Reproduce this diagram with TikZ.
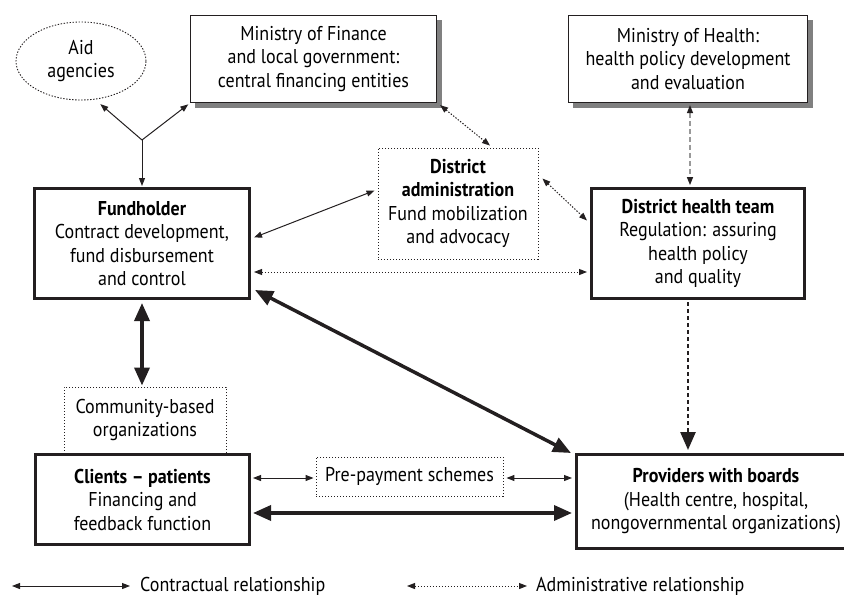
\documentclass[tikz,border=0pt]{standalone}
\usepackage{fontspec}
\setmainfont[FakeStretch=0.9]{PT Sans}
\usetikzlibrary{arrows.meta,calc,shapes.geometric}
\definecolor{pag}{HTML}{231F20}
\tikzset{
	thinbox/.style={draw=pag, line width=1.2pt, align=center, inner sep=0pt, fill=white},
	thickbox/.style={draw=pag, line width=3pt, align=center, inner sep=0pt, fill=white},
	dotbox/.style={draw=pag, line width=0.9pt, dash pattern=on 1.4pt off 1.6pt, align=center, inner sep=0pt},
	boxshadow/.style={fill=black!50, draw=none, inner sep=0pt},
	contract/.style={draw=pag, line width=1pt, {Triangle[length=8pt,width=6pt]}-{Triangle[length=8pt,width=6pt]}},
	admin/.style={contract, dash pattern=on 1.4pt off 1.6pt},
	heavy/.style={draw=pag, line width=3.5pt, {Triangle[length=18pt,width=15pt]}-{Triangle[length=18pt,width=15pt]}},
}
\begin{document}
\begin{tikzpicture}[x=1pt, y=-1pt, font=\fontsize{20pt}{23.5pt}\selectfont]
	\useasboundingbox (0,0) rectangle (844,597);
	%% top row (grey shadows first, boxes on top)
	\node[boxshadow, minimum width=247pt, minimum height=88pt] (mofshadow) at (318.5,64) {};
	\node[boxshadow, minimum width=240pt, minimum height=88pt] (mohshadow) at (693,64) {};
	\node[ellipse, dotbox, minimum width=130pt, minimum height=78pt] (aid) at (81,61) {Aid\\agencies};
	\node[thinbox, minimum width=246pt, minimum height=87pt] (mof) at (313.5,59) {Ministry of Finance\\and local government:\\central financing entities};
	\node[thinbox, minimum width=239pt, minimum height=87pt] (moh) at (688,59) {Ministry of Health:\\health policy development\\and evaluation};
	%% middle row
	\node[dotbox, minimum width=160pt, minimum height=111pt] (distadm) at (458,203.5) {\textbf{District}\\\textbf{administration}\\Fund mobilization\\and advocacy};
	\node[thickbox, minimum width=215pt, minimum height=110pt] (fund) at (142,243.5) {\textbf{Fundholder}\\Contract development,\\fund disbursement\\and control};
	\node[thickbox, minimum width=213pt, minimum height=110pt] (dht) at (698,243.5) {\textbf{District health team}\\Regulation: assuring\\health policy\\and quality};
	%% bottom row
	\node[dotbox, minimum width=162pt, minimum height=66pt] (cbo) at (145,420) {Community-based\\organizations};
	\node[thickbox, minimum width=214pt, minimum height=90pt] (clients) at (142.5,499.5) {\textbf{Clients -- patients}\\Financing and\\feedback function};
	\node[dotbox, minimum width=187pt, minimum height=39pt] (prepay) at (409.5,476.5) {Pre-payment schemes};
	\node[thickbox, minimum width=279pt, minimum height=94pt] (prov) at (716,501.5) {\textbf{Providers with boards}\\(Health centre, hospital,\\nongovernmental organizations)};
	%% connectors
	\coordinate (fork) at (142,140);
	\draw[draw=pag, line width=1pt, -{Triangle[length=8pt,width=6pt]}, shorten >=7pt] (fork) -- (aid.-70);
	\draw[draw=pag, line width=1pt, -{Triangle[length=8pt,width=6pt]}, shorten >=2pt] (fork) -- (mof.south west);
	\draw[draw=pag, line width=1pt, -{Triangle[length=8pt,width=6pt]}, shorten >=1pt] (fork) -- (fund.north);
	\draw[admin] ($(mof.south east)+(3,2)$) -- ($(distadm.north)+(32,-2)$);
	\draw[admin] ($(distadm.north east)+(4,31)$) -- ($(dht.west)+(-3,-23)$);
	\draw[contract] ($(fund.east)+(3,-6)$) -- ($(distadm.north west)+(-3,43)$);
	\draw[admin] ($(fund.east)+(3,28.5)$) -- ($(dht.west)+(-3,28.5)$);
	\draw[draw=black!40, line width=1.2pt, dash pattern=on 5pt off 3pt, {Triangle[length=8pt,width=6pt,color=pag]}-{Triangle[length=8pt,width=6pt,color=pag]}] ($(moh.south)+(2,2)$) -- ($(moh.south)+(2,82)$);
	\draw[draw=pag, line width=2.5pt, dash pattern=on 4pt off 3pt, -{Triangle[length=18pt,width=15pt]}] ($(dht.south)+(-10,2)$) -- ($(prov.north)+(-28,-3)$);
	\draw[heavy] ($(fund.south east)+(4,-10)$) -- ($(prov.north west)+(-4,0)$);
	\draw[heavy] ($(fund.south)+(0,3)$) -- ($(cbo.north)+(-3,-1)$);
	\draw[contract] ($(clients.east)+(2,-21.5)$) -- ($(prepay.west)+(-2,1.5)$);
	\draw[contract] ($(prepay.east)+(3,1.5)$) -- ($(prov.west)+(-3,-23.5)$);
	\draw[heavy] ($(clients.east)+(2,13.5)$) -- ($(prov.west)+(-3,11.5)$);
	%% legend
	\coordinate (lega) at (12,586);
	\coordinate (legb) at (130,586);
	\coordinate (legc) at (407,586);
	\coordinate (legd) at (527,586);
	\draw[contract] (lega) -- (legb);
	\draw[admin] (legc) -- (legd);
	\node[anchor=west, inner sep=0pt] (legcon) at (140,586) {Contractual relationship};
	\node[anchor=west, inner sep=0pt] (legadm) at (536,586) {Administrative relationship};
\end{tikzpicture}
\end{document}
